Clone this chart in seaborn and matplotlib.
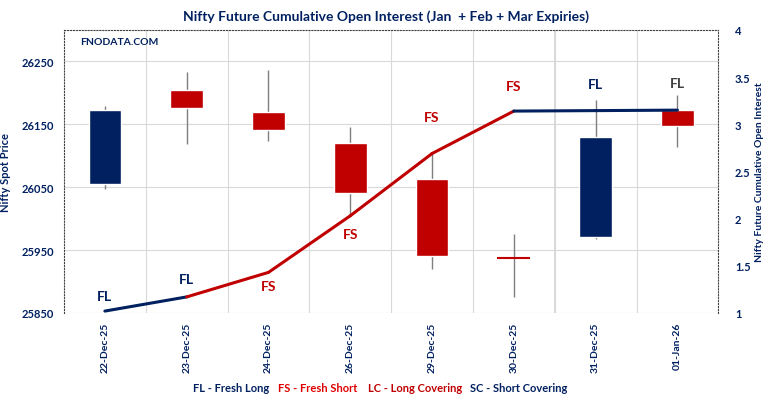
import numpy as np
import pandas as pd
import seaborn as sns
import matplotlib.pyplot as plt

# ============================================================================
# DATA
# ============================================================================
dates = ['22-Dec-25', '23-Dec-25', '24-Dec-25', '26-Dec-25',
         '29-Dec-25', '30-Dec-25', '31-Dec-25', '01-Jan-26']
open_px = [26055, 26204, 26170, 26121, 26063, 25938, 25970, 26172]
high_px = [26179, 26233, 26236, 26145, 26105, 25976, 26188, 26197]
low_px = [26047, 26118, 26123, 26008, 25920, 25876, 25967, 26114]
close_px = [26173, 26176, 26141, 26041, 25940, 25938, 26129, 26147]
cum_oi = [1.02, 1.17, 1.43, 2.03, 2.69, 3.14, 3.145, 3.15]
oi_tags = ['FL', 'FL', 'FS', 'FS', 'FS', 'FS', 'FL', 'FL']

# ============================================================================
# STYLE
# ============================================================================
BLUE = '#002060'
RED = '#C00000'
GRAY = '#7F7F7F'

sns.set_theme(style="whitegrid")
plt.rcParams['font.family'] = ['Lato', 'DejaVu Sans']
plt.rcParams['font.weight'] = 'bold'

df = pd.DataFrame({'Date': dates, 'Open': open_px, 'High': high_px,
                   'Low': low_px, 'Close': close_px, 'OI': cum_oi,
                   'Tag': oi_tags})
df['pos'] = np.arange(len(df))

fig = plt.figure(figsize=(7.68, 4.02), dpi=100)
ax = fig.add_axes([0.0833, 0.219, 0.852, 0.704])

# ============================================================================
# CANDLES
# ============================================================================
ax.vlines(df['pos'], df['Low'], df['High'], color=GRAY, linewidth=1, zorder=2)
for _, r in df.iterrows():
    color = BLUE if r['Close'] > r['Open'] else RED
    lo = min(r['Open'], r['Close'])
    h = abs(r['Close'] - r['Open'])
    if h < 1:
        ax.hlines(r['Open'], r['pos'] - 0.2, r['pos'] + 0.2, color=color,
                  linewidth=1.5, zorder=3)
    else:
        ax.bar(r['pos'], h, bottom=lo, width=0.4, color=color, zorder=3)

ax.set_xlim(-0.5, len(df) - 0.5)
ax.set_ylim(25850, 26300)
ax.set_yticks([25850, 25950, 26050, 26150, 26250])
ax.set_xticks(df['pos'])
ax.set_xticklabels(df['Date'], rotation=90)
ax.set_xticks(np.arange(0.5, len(df) - 0.5), minor=True)
ax.grid(False)
ax.grid(axis='y', which='major', color='#D9D9D9', linewidth=0.8)
ax.grid(axis='x', which='minor', color='#D9D9D9', linewidth=0.8)
# slightly heavier separator between 30-Dec and 31-Dec
ax.axvline(5.5, color='#D4D4D4', linewidth=1.2, zorder=0.5)
ax.tick_params(axis='both', which='both', length=0, labelsize=8, labelcolor=BLUE)
ax.tick_params(axis='y', pad=7)
ax.tick_params(axis='x', pad=6, labelsize=7.5)
ax.set_ylabel('Nifty Spot Price', fontsize=8, color=BLUE, fontweight='bold', labelpad=8)
for side in ['left', 'top', 'right']:
    ax.spines[side].set_linestyle(':')
    ax.spines[side].set_color('#404040')
    ax.spines[side].set_linewidth(0.8)
ax.spines['bottom'].set_visible(False)

# ============================================================================
# CUMULATIVE OPEN INTEREST LINE
# ============================================================================
ax2 = ax.twinx()
for i in range(1, len(df)):
    seg = df.iloc[i - 1:i + 1]
    seg_color = BLUE if df['Tag'][i] == 'FL' else RED
    sns.lineplot(data=seg, x='pos', y='OI', ax=ax2, color=seg_color,
                 linewidth=2.2, legend=False, zorder=4)

ax2.set_ylim(1, 4)
ax2.set_yticks(np.arange(1, 4.01, 0.5))
ax2.set_yticklabels(['1', '1.5', '2', '2.5', '3', '3.5', '4'])
ax2.grid(False)
ax2.tick_params(axis='y', length=0, labelsize=8, labelcolor=BLUE, pad=12)
ax2.set_xlabel('')
ax2.set_ylabel('Nifty Future Cumulative Open Interest', fontsize=7.5,
               color=BLUE, fontweight='bold', labelpad=3)
for s in ax2.spines.values():
    s.set_visible(False)

offsets = [11, 13, -10, -13, 26, 18, 19, 19.5]
tag_colors = [BLUE, BLUE, RED, RED, RED, RED, BLUE, '#404040']
for i, r in df.iterrows():
    ax2.annotate(r['Tag'], (r['pos'], r['OI']), xytext=(0, offsets[i]),
                 textcoords='offset points', ha='center', va='center',
                 fontsize=10, fontweight='bold', color=tag_colors[i])

# ============================================================================
# TEXTS
# ============================================================================
fig.text(0.503, 0.958, 'Nifty Future Cumulative Open Interest (Jan  + Feb + Mar Expiries)',
         ha='center', va='center', fontsize=10, fontweight='bold', color=BLUE)
ax.text(0.025, 0.96, 'FNODATA.COM', transform=ax.transAxes, ha='left', va='center',
        fontsize=7.5, fontweight='bold', color=BLUE)

legend_items = [('FL - Fresh Long', BLUE, 193), ('FS - Fresh Short', '#E00000', 278),
                ('LC - Long Covering', RED, 368), ('SC - Short Covering', BLUE, 470)]
for txt, c, xp in legend_items:
    fig.text(xp / 768, 1 - 389 / 402, txt, ha='left', va='center',
             fontsize=8, fontweight='bold', color=c)

plt.savefig("out.png", dpi=100)
